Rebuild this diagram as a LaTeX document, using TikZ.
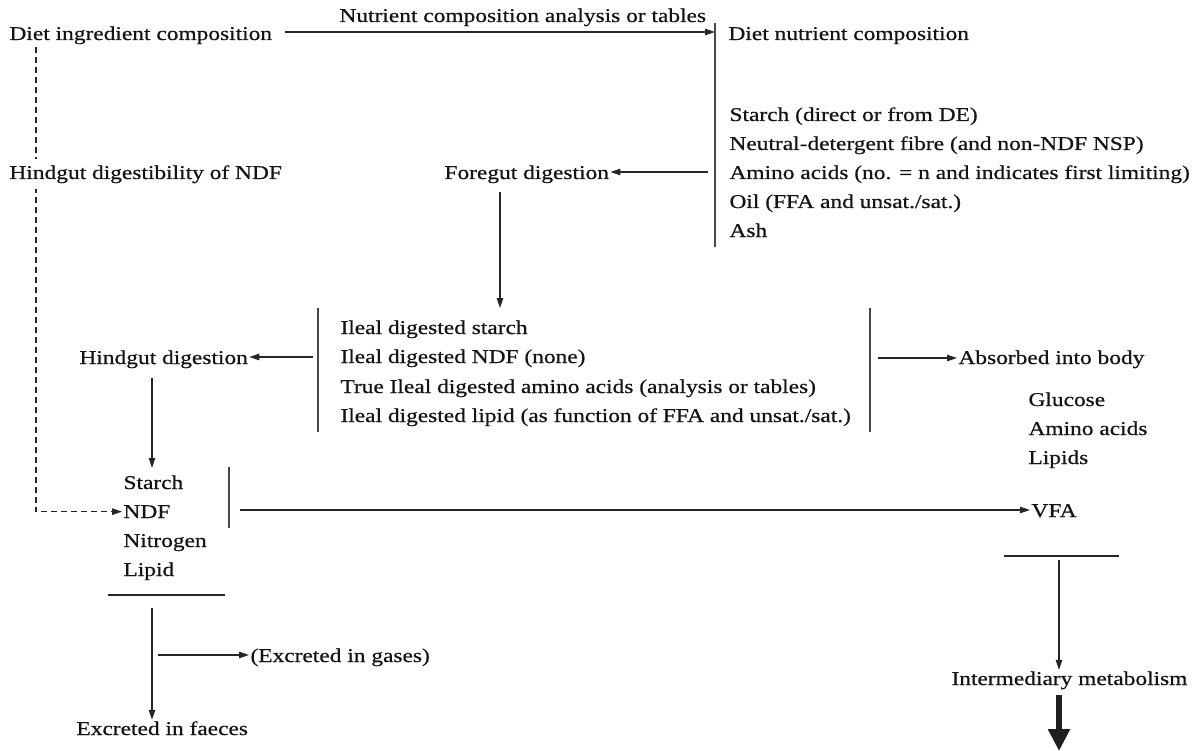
\documentclass[tikz,border=0pt]{standalone}
\usepackage{fontspec}
\setmainfont{Liberation Serif}[FakeStretch=1.2, FakeBold=0.6]
\usepackage{tikz}
\usetikzlibrary{arrows.meta, positioning}

\tikzset{
  txt/.style={anchor=base west, inner sep=0pt, outer sep=1.5pt, text=black!92},
  ln/.style={draw=black!85, line width=1.2pt},
  ar/.style={ln, -{Triangle[length=10pt,width=6.5pt]}},
  bar/.style={draw=black!72, line width=1.5pt}
}

\begin{document}
\begin{tikzpicture}[x=1pt, y=-1pt, font=\fontsize{19.5}{24}\selectfont]
\useasboundingbox (0,0) rectangle (1201,751);

% diet and nutrients
\node[txt] (dic) at (8,40) {Diet ingredient composition};
\node[txt] (nca) at (338,22) {Nutrient composition analysis or tables};
\node[txt] (dnc) at (727,40) {Diet nutrient composition};
\node[txt] (s1) at (728,121) {Starch (direct or from DE)};
\node[txt] (s2) at (728,150) {Neutral-detergent fibre (and non-NDF NSP)};
\node[txt] (s3) at (728,179) {Amino acids (no. = n and indicates first limiting)};
\node[txt] (s4) at (728,208) {Oil (FFA and unsat./sat.)};
\node[txt] (s5) at (728,237) {Ash};
\node[txt] (fg) at (443,179) {Foregut digestion};

\coordinate (b1a) at (715,23);
\coordinate (b1b) at (715,247);
\draw[bar] (b1a) -- (b1b);
\coordinate (t0) at (285,32);
\draw[ar] (t0) -- (t0 -| b1a);
\coordinate (f0) at (708,172);
\draw[ar] (f0) -- (f0 -| fg.east);

% ileal digestion
\node[txt] (il1) at (339,334) {Ileal digested starch};
\node[txt] (il2) at (339,363) {Ileal digested NDF (none)};
\node[txt] (il3) at (339,393) {True Ileal digested amino acids (analysis or tables)};
\node[txt] (il4) at (339,422) {Ileal digested lipid (as function of FFA and unsat./sat.)};
\node[txt] (hd) at (78,364) {Hindgut digestion};
\node[txt] (ab) at (957,364) {Absorbed into body};
\node[txt] (g1) at (1027,406) {Glucose};
\node[txt] (g2) at (1027,435) {Amino acids};
\node[txt] (g3) at (1027,464) {Lipids};

\coordinate (f1) at (500,192);
\coordinate (f2) at (500,308);
\draw[ar] (f1) -- (f2);
\coordinate (b2a) at (318,308);
\coordinate (b2b) at (318,432);
\coordinate (b3a) at (870,308);
\coordinate (b3b) at (870,432);
\draw[bar] (b2a) -- (b2b);
\draw[bar] (b3a) -- (b3b);
\coordinate (h0) at (313,357);
\draw[ar] (h0) -- (h0 -| hd.east);
\coordinate (a0) at (878,358);
\draw[ar] (a0) -- (a0 -| ab.west);

% hindgut
\node[txt] (h1) at (122,489) {Starch};
\node[txt] (h2) at (122,518) {NDF};
\node[txt] (h3) at (122,547) {Nitrogen};
\node[txt] (h4) at (122,576) {Lipid};
\node[txt] (vfa) at (1030,517) {VFA};

\coordinate (hd0) at (152,378);
\coordinate (hd1) at (152,468);
\draw[ar] (hd0) -- (hd1);
\coordinate (b4a) at (229,467);
\coordinate (b4b) at (229,528);
\draw[bar] (b4a) -- (b4b);
\coordinate (v0) at (240,510);
\draw[ar] (v0) -- (v0 -| vfa.west);
\coordinate (d0) at (36,47);
\draw[ln, dash pattern=on 6pt off 4pt, -{Triangle[length=10pt,width=6.5pt]}] (d0) |- (h2.west);
\node[txt, inner ysep=6pt, fill=white] (hdn) at (8,179) {Hindgut digestibility of NDF};

% excretion
\coordinate (u0) at (108,595);
\coordinate (u1) at (225,595);
\draw[ln] (u0) -- (u1);
\node[txt] (ef) at (75,735) {Excreted in faeces};
\node[txt] (eg) at (249,662) {(Excreted in gases)};
\coordinate (e0) at (152,608);
\draw[ar] (e0) -- (ef.north -| e0);
\coordinate (g0) at (158,655);
\draw[ar] (g0) -- (g0 -| eg.west);

% metabolism
\node[txt] (im) at (950,685) {Intermediary metabolism};
\coordinate (w0) at (1004,556);
\coordinate (w1) at (1119,556);
\draw[ln] (w0) -- (w1);
\coordinate (m0) at (1059,560);
\draw[ar] (m0) -- (im.north -| m0);
\coordinate (m1) at (1059,695);
\coordinate (m2) at (1059,751);
\draw[draw=black!88, line width=6pt, -{Triangle[length=22pt,width=21pt]}] (m1) -- (m2);
\end{tikzpicture}
\end{document}
